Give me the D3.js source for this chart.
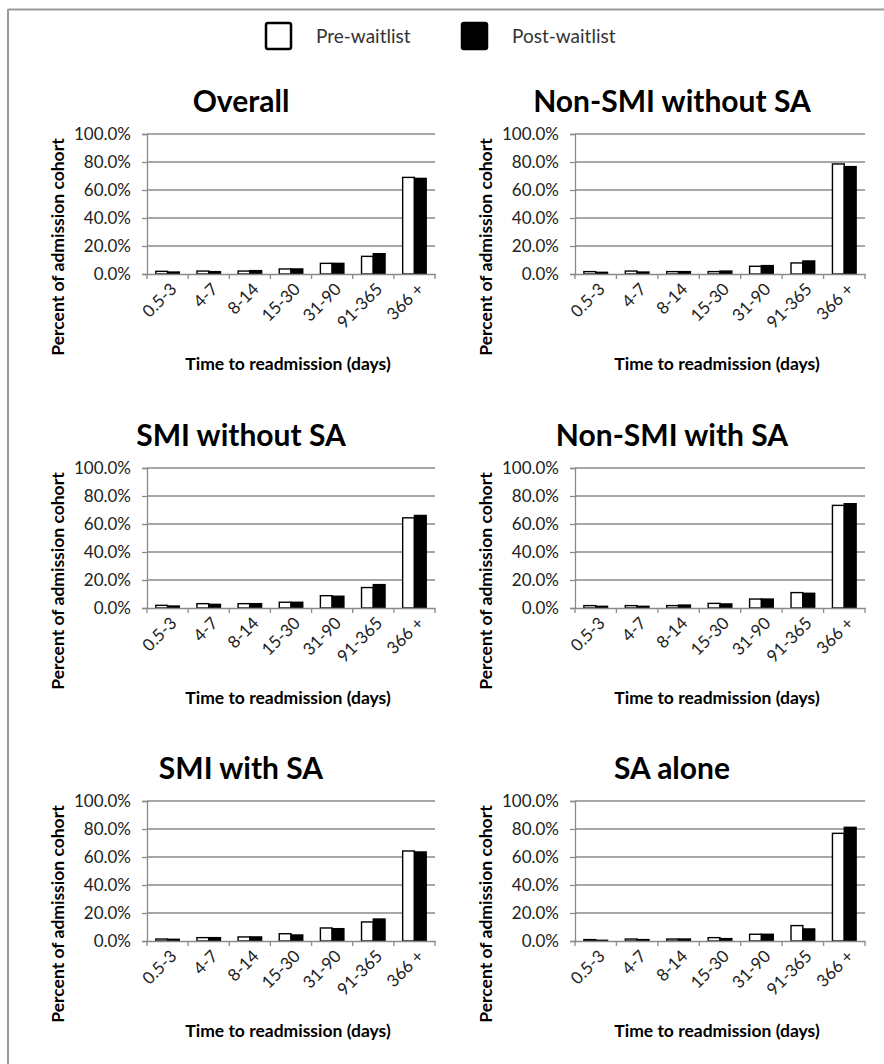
<!DOCTYPE html>
<html>
<head>
<meta charset="utf-8">
<script src="https://cdn.jsdelivr.net/npm/d3@7/dist/d3.min.js"></script>
<style>
	body { margin: 0; background: #fff; }
	svg { display: block; }
	text { font-family: Lato, 'Open Sans', 'DejaVu Sans', sans-serif; }
</style>
</head>
<body>
<svg id="chart" width="884" height="1064"></svg>
<script>
var categories = ['0.5-3', '4-7', '8-14', '15-30', '31-90', '91-365', '366 +'];
var seriesNames = ['Pre-waitlist', 'Post-waitlist'];
var yTickValues = [0, 20, 40, 60, 80, 100];
var panelTitles = ['Overall', 'Non-SMI without SA', 'SMI without SA', 'Non-SMI with SA', 'SMI with SA', 'SA alone'];

// percent of admission cohort
var overallPre = [1.9, 2.1, 2.1, 3.6, 7.6, 12.6, 69.0];
var overallPost = [1.4, 1.7, 2.4, 3.6, 7.6, 14.5, 68.3];
var nonSmiNoSaPre = [1.7, 2.1, 1.7, 1.7, 5.5, 7.9, 78.6];
var nonSmiNoSaPost = [1.2, 1.4, 1.7, 2.1, 6.0, 9.3, 76.7];
var smiNoSaPre = [1.9, 3.1, 3.1, 4.1, 8.8, 14.6, 64.4];
var smiNoSaPost = [1.4, 2.6, 3.1, 4.1, 8.4, 16.7, 66.1];
var nonSmiSaPre = [1.7, 1.7, 1.7, 3.3, 6.4, 11.0, 73.3];
var nonSmiSaPost = [1.2, 1.2, 2.1, 2.9, 6.4, 10.5, 74.5];
var smiSaPre = [1.4, 2.4, 2.9, 5.2, 9.3, 13.6, 64.3];
var smiSaPost = [1.2, 2.4, 2.9, 4.3, 8.8, 15.7, 63.6];
var saAlonePre = [1.0, 1.4, 1.4, 2.4, 4.8, 11.0, 76.9];
var saAlonePost = [0.5, 1.0, 1.4, 1.7, 4.8, 8.6, 81.2];

(function(d3) {
	'use strict';

	var svg = d3.select('#chart');
	var gridColor = '#8a8a8a';

	var panels = [
		[overallPre, overallPost],
		[nonSmiNoSaPre, nonSmiNoSaPost],
		[smiNoSaPre, smiNoSaPost],
		[nonSmiSaPre, nonSmiSaPost],
		[smiSaPre, smiSaPost],
		[saAlonePre, saAlonePost]
	];

	var colLeft = [147, 575], colRight = [435, 865];
	var titleX = [241, 672];
	var rowTop = [134, 468, 801];
	var plotH = 140;

	/** frame */
	svg.append('line').attr('x1', 8).attr('x2', 884).attr('y1', 9.5).attr('y2', 9.5)
		.attr('stroke', '#9a9a9a').attr('stroke-width', 2);
	svg.append('line').attr('x1', 8).attr('x2', 8).attr('y1', 9).attr('y2', 1064)
		.attr('stroke', '#9a9a9a').attr('stroke-width', 2);

	/** legend */
	var legendX = [266, 462];
	seriesNames.forEach(function(name, i) {
		svg.append('rect').attr('x', legendX[i]).attr('y', 23).attr('width', 25).attr('height', 26)
			.attr('rx', 2).attr('fill', i === 0 ? '#fff' : '#000')
			.attr('stroke', '#000').attr('stroke-width', 2.5);
		svg.append('text').attr('x', legendX[i] + 50).attr('y', 43)
			.attr('font-size', 19).attr('fill', '#333').text(name);
	});

	var renderPanel = function(p, idx) {
		var col = idx % 2, row = Math.floor(idx / 2);
		var left = colLeft[col], top = rowTop[row];
		var w = colRight[col] - left;
		var g = svg.append('g').attr('transform', 'translate(' + left + ',' + top + ')');

		var x = d3.scaleBand().domain(categories).range([0, w]);
		var xs = d3.scaleBand().domain(seriesNames).range([0, x.bandwidth()]).paddingOuter(0.75);
		var y = d3.scaleLinear().domain([0, 100]).range([plotH, 0]);

		// gridlines
		g.selectAll('line.grid').data(yTickValues.slice(1)).enter().append('line')
			.attr('x1', 0).attr('x2', w)
			.attr('y1', function(d) { return y(d); }).attr('y2', function(d) { return y(d); })
			.attr('stroke', gridColor).attr('stroke-width', 1.3);

		// y axis
		var yAxis = g.append('g').call(d3.axisLeft(y).tickValues(yTickValues).tickSize(5).tickPadding(11)
			.tickFormat(function(d) { return d.toFixed(1) + '%'; }));
		yAxis.select('.domain').attr('stroke', gridColor).attr('stroke-width', 1.3);
		yAxis.selectAll('.tick line').attr('stroke', gridColor).attr('stroke-width', 1.3);
		yAxis.selectAll('.tick text').attr('font-size', 17).attr('fill', '#222')
			.style('font-family', 'Lato, sans-serif');

		// bars
		var seriesData = seriesNames.map(function(s, si) {
			return p[si].map(function(v, ci) { return { s: s, c: categories[ci], v: v, si: si }; });
		});
		g.selectAll('g.series').data(seriesData).enter().append('g')
			.selectAll('rect').data(function(d) { return d; }).enter().append('rect')
			.attr('x', function(d) { return x(d.c) + xs(d.s); })
			.attr('width', xs.bandwidth())
			.attr('y', function(d) { return y(d.v); })
			.attr('height', function(d) { return plotH - y(d.v); })
			.attr('fill', function(d) { return d.si === 0 ? '#fff' : '#000'; })
			.attr('stroke', '#000').attr('stroke-width', 1.4);

		// x axis
		var xAxis = g.append('g').attr('transform', 'translate(0,' + plotH + ')')
			.call(d3.axisBottom(x).tickSize(0).tickPadding(0));
		xAxis.select('.domain').attr('stroke', gridColor).attr('stroke-width', 1.3);
		xAxis.selectAll('.tick text')
			.attr('font-size', 17).attr('fill', '#222')
			.style('font-family', 'Lato, sans-serif')
			.attr('text-anchor', 'end')
			.attr('transform', 'translate(6,12) rotate(-45)')
			.attr('dy', '0.35em');
		var boundaries = d3.range(categories.length + 1).map(function(i) { return i * x.step(); });
		xAxis.selectAll('line.boundary').data(boundaries).enter().append('line')
			.attr('x1', function(d) { return d; }).attr('x2', function(d) { return d; })
			.attr('y1', 0).attr('y2', 5)
			.attr('stroke', gridColor).attr('stroke-width', 1.3);

		// titles
		svg.append('text').attr('x', titleX[col]).attr('y', top - 22).attr('text-anchor', 'middle')
			.attr('font-size', 30).attr('font-weight', 'bold').attr('fill', '#000')
			.text(panelTitles[idx]);
		svg.append('text').attr('x', left + w / 2 - 3).attr('y', top + plotH + 96).attr('text-anchor', 'middle')
			.attr('font-size', 17.5).attr('font-weight', 'bold').attr('fill', '#000')
			.text('Time to readmission (days)');
		var ty = top + (plotH + 86) / 2;
		var tx = left - 89;
		svg.append('text').attr('transform', 'translate(' + tx + ',' + ty + ') rotate(-90)')
			.attr('text-anchor', 'middle').attr('dy', '0.35em')
			.attr('font-size', 17.5).attr('font-weight', 'bold').attr('fill', '#000')
			.text('Percent of admission cohort');
	};

	panels.forEach(renderPanel);
})(d3);
</script>
</body>
</html>
